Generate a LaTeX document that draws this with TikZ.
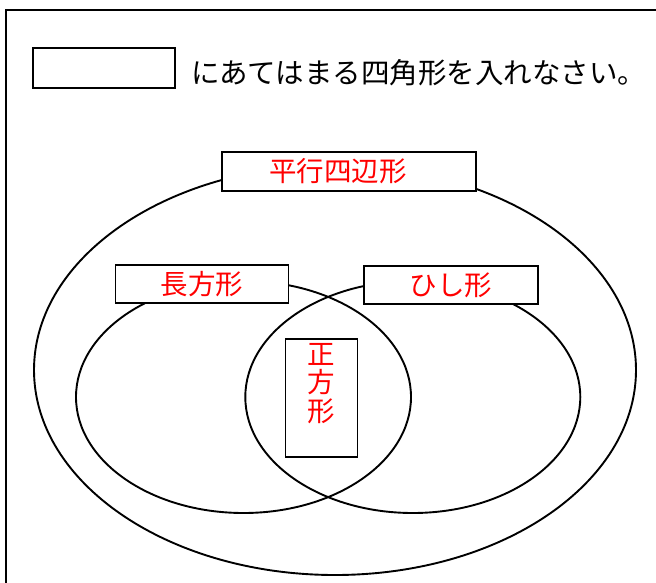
\documentclass[tikz,border=0pt]{standalone}
\usepackage{fontspec}
\setmainfont{Noto Sans CJK JP}
\usetikzlibrary{positioning}
\pgfdeclarelayer{background}
\pgfsetlayers{background,main}

\begin{document}
\begin{tikzpicture}[x=1pt,y=-1pt,
	box/.style={draw=black, line width=1.8pt, fill=white, inner sep=0pt},
	redtext/.style={text=red, inner sep=0pt, font=\fontsize{27.5}{28.5}\selectfont},
	ring/.style={draw=black, line width=1.9pt},
	]
	\useasboundingbox (0,0) rectangle (656,582);
	\clip (0,0) rectangle (656,582);
	\draw[line width=1.9pt] (6,10) rectangle (720,660);
	%Nodes
	\node[box, minimum width=142pt, minimum height=40pt] (blank) at (104,68) {};
	\node[anchor=west, inner sep=0pt, font=\fontsize{28.5}{30}\selectfont] (prompt) at (191,73) {にあてはまる四角形を入れなさい。};
	\node[box, redtext, minimum width=254pt, minimum height=39pt] (para) at (349,171.5) {\raisebox{-1.5pt}{平行四辺形}\hspace*{22pt}};
	\node[box, redtext, minimum width=173pt, minimum height=38pt] (rect) at (202,284) {\raisebox{-2pt}{長方形}};
	\node[box, redtext, minimum width=174pt, minimum height=38pt] (rhomb) at (451,285) {\raisebox{-2pt}{ひし形}};
	\node[box, minimum width=72pt, minimum height=118pt] (sq) at (321.5,398) {};
	\node[redtext, align=center, below=5pt of sq.north] (sqtext) {正\\方\\形};

	\begin{pgfonlayer}{background}
	\draw[ring] (335,370) ellipse [x radius=301, y radius=205];
	\draw[ring] (243.5,397) ellipse [x radius=167.5, y radius=116];
	\draw[ring] (412.8,397) ellipse [x radius=167.5, y radius=116];
	\end{pgfonlayer}
\end{tikzpicture}
\end{document}
